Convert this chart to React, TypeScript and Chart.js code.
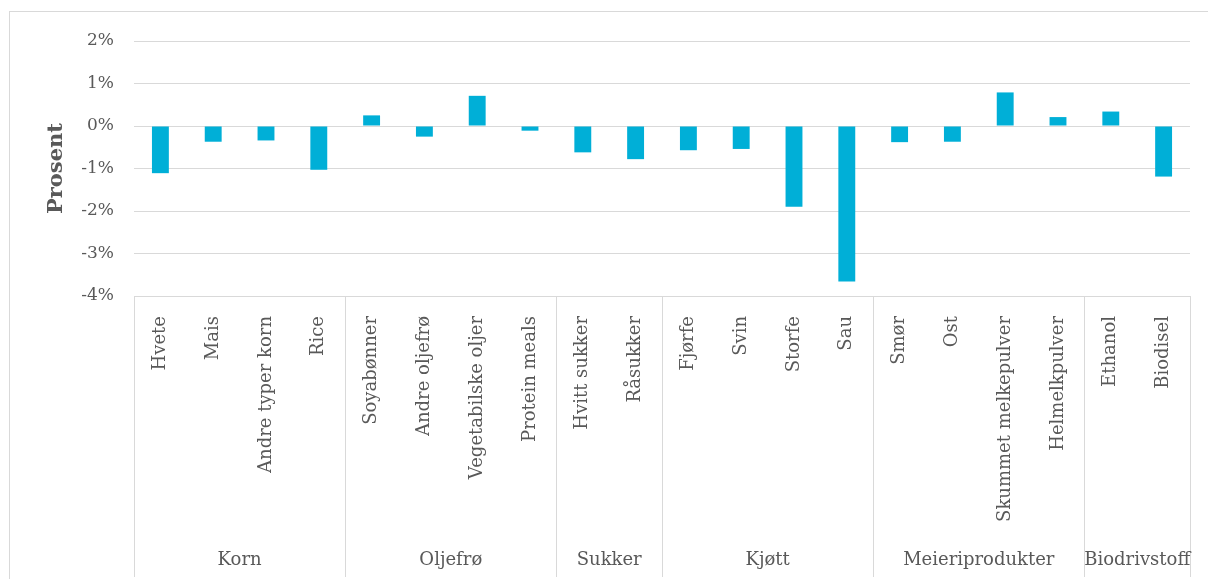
import React, { useEffect, useRef } from "react";
import { Chart, registerables } from "chart.js";

Chart.register(...registerables);

// Product categories along the x axis
const categories = [
  "Hvete",
  "Mais",
  "Andre typer korn",
  "Rice",
  "Soyabønner",
  "Andre oljefrø",
  "Vegetabilske oljer",
  "Protein meals",
  "Hvitt sukker",
  "Råsukker",
  "Fjørfe",
  "Svin",
  "Storfe",
  "Sau",
  "Smør",
  "Ost",
  "Skummet melkepulver",
  "Helmelkpulver",
  "Ethanol",
  "Biodisel",
];

// Percentage change per product
const values = [
  -1.11, -0.37, -0.34, -1.03, 0.25, -0.25, 0.71, -0.11, -0.62, -0.78, -0.57,
  -0.54, -1.9, -3.66, -0.38, -0.37, 0.79, 0.21, 0.34, -1.19,
];

// Product groups and how many categories each spans
const groupNames = ["Korn", "Oljefrø", "Sukker", "Kjøtt", "Meieriprodukter", "Biodrivstoff"];
const groupSizes = [4, 4, 2, 4, 4, 2];

const yMin = -4;
const yMax = 2;

const FONT = "'DejaVu Serif', 'Liberation Serif', serif";
const TEXT = "#595959";
const GRID = "#d9d9d9";
const BAR = "#00AFD7";

// Draws group separators below the axis and the group names
const groupAxisPlugin = {
  id: "groupAxis",
  afterDraw(chart: any) {
    const x = chart.scales.x;
    const ctx = chart.ctx;
    const top = chart.chartArea.bottom;
    const bottom = 577;
    const half = (x.getPixelForValue(1) - x.getPixelForValue(0)) / 2;
    const edge = (i: number) =>
      i < categories.length ? x.getPixelForValue(i) - half : x.getPixelForValue(categories.length - 1) + half;

    ctx.save();
    ctx.strokeStyle = GRID;
    ctx.lineWidth = 1;
    let start = 0;
    const bounds: number[] = [0];
    groupSizes.forEach((n) => {
      start += n;
      bounds.push(start);
    });
    bounds.forEach((b) => {
      const px = Math.round(edge(b)) + 0.5;
      ctx.beginPath();
      ctx.moveTo(px, top);
      ctx.lineTo(px, bottom);
      ctx.stroke();
    });

    ctx.fillStyle = TEXT;
    ctx.font = `18px ${FONT}`;
    ctx.textAlign = "center";
    ctx.textBaseline = "middle";
    groupNames.forEach((name, gi) => {
      const l = edge(bounds[gi]);
      const r = edge(bounds[gi + 1]);
      ctx.fillText(name, (l + r) / 2, 560);
    });
    ctx.restore();
  },
};

export default function App() {
  const ref = useRef<HTMLCanvasElement | null>(null);

  useEffect(() => {
    if (!ref.current) return;
    const chart = new Chart(ref.current, {
      type: "bar",
      data: {
        labels: categories,
        datasets: [
          {
            data: values,
            backgroundColor: BAR,
            categoryPercentage: 1,
            barPercentage: 0.32,
          },
        ],
      },
      options: {
        animation: false,
        responsive: false,
        maintainAspectRatio: false,
        layout: { padding: { top: 41, right: 18, left: 0, bottom: 0 } },
        plugins: {
          legend: { display: false },
          tooltip: { enabled: false },
        },
        scales: {
          x: {
            grid: { display: false },
            border: { display: false },
            ticks: {
              autoSkip: false,
              minRotation: 90,
              maxRotation: 90,
              padding: 12,
              color: TEXT,
              font: { family: FONT, size: 18 },
            },
            afterFit(scale: any) {
              scale.height = 283;
            },
          },
          y: {
            min: yMin,
            max: yMax,
            border: { display: false },
            grid: { color: GRID, lineWidth: 1, drawTicks: false },
            ticks: {
              stepSize: 1,
              padding: 20,
              color: TEXT,
              font: { family: FONT, size: 17 },
              callback: (v: any) => `${v}%`,
            },
            title: {
              display: true,
              text: "Prosent",
              color: TEXT,
              font: { family: FONT, size: 21, weight: "bold" },
              padding: { top: 44, bottom: 0 },
            },
            afterFit(scale: any) {
              scale.width = 134;
            },
          },
        },
      },
      plugins: [groupAxisPlugin],
    });
    return () => chart.destroy();
  }, []);

  return (
    <>
      <div
        style={{
          position: "fixed",
          left: 9,
          top: 11,
          width: 1250,
          height: 700,
          border: `1px solid ${GRID}`,
          boxSizing: "border-box",
          background: "#fff",
        }}
      />
      <canvas
        ref={ref}
        width={1208}
        height={579}
        style={{ position: "fixed", left: 0, top: 0, width: 1208, height: 579 }}
      />
    </>
  );
}
